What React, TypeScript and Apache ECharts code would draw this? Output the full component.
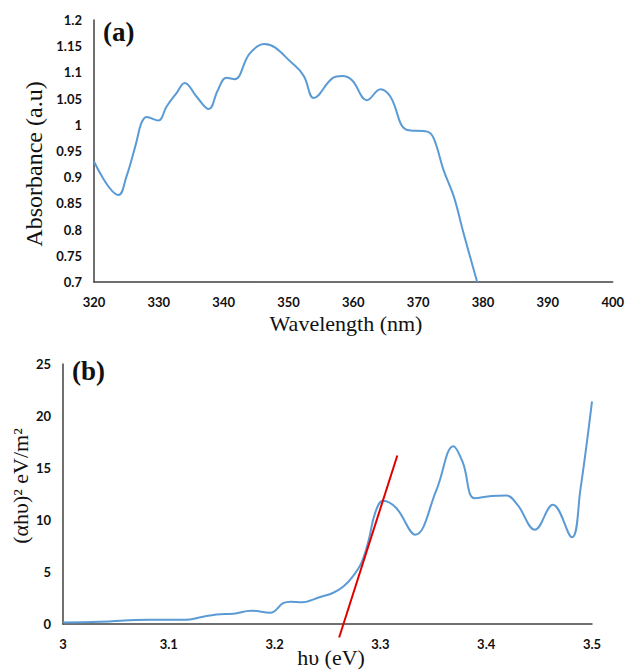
import React, { useEffect, useRef } from "react";
import * as echarts from "echarts";

// Panel (a): absorbance spectrum
const wavelengthNm = [320, 323.8, 325.0, 326.5, 327.3, 328.1, 329.9, 331.2, 332.7, 334.0, 335.8, 337.7, 339.1, 340.4, 341.7, 344.0, 346.3, 350.9, 352.4, 353.9, 356.8, 358.3, 359.8, 362.1, 364.2, 365.7, 368.3, 371.4, 372.4, 373.9, 375.5, 377.0, 379.1];
const absorbance = [0.930, 0.866, 0.901, 0.965, 1.003, 1.015, 1.008, 1.035, 1.060, 1.080, 1.054, 1.030, 1.066, 1.090, 1.087, 1.136, 1.154, 1.114, 1.092, 1.051, 1.089, 1.093, 1.085, 1.047, 1.068, 1.054, 0.990, 0.987, 0.974, 0.914, 0.863, 0.793, 0.700];
const wavelengthTicks = { min: 320, max: 400, interval: 10 };
const absorbanceTicks = { min: 0.7, max: 1.2, interval: 0.05 };

// Panel (b): Tauc plot
const photonEnergy = [3.0, 3.035, 3.082, 3.116, 3.13, 3.145, 3.161, 3.178, 3.196, 3.208, 3.215, 3.226, 3.243, 3.255, 3.265, 3.274, 3.282, 3.289, 3.295, 3.3025, 3.315, 3.333, 3.353, 3.369, 3.378, 3.389, 3.405, 3.419, 3.430, 3.446, 3.463, 3.481, 3.489, 3.5];
const taucValue = [0.15, 0.22, 0.42, 0.4, 0.65, 0.92, 0.99, 1.28, 1.08, 2.0, 2.15, 2.1, 2.6, 2.98, 3.6, 4.58, 5.87, 8.1, 10.67, 11.85, 11.15, 8.59, 12.9, 17.1, 15.5, 12.1, 12.3, 12.35, 11.4, 9.07, 11.47, 8.33, 12.9, 21.4];
const tangentX = [3.261, 3.316];
const tangentY = [-1.3, 16.2];
const energyTicks = { min: 3, max: 3.5, interval: 0.1 };
const taucTicks = { min: 0, max: 25, interval: 5 };

const BLUE = "#5B9BD5";
const AXIS = "#404040";
const INK = "#111";
const SERIF = "'Liberation Serif', 'Times New Roman', serif";
const tickLabel = { fontFamily: "Lato", fontWeight: "bold" as const, fontSize: 13, color: INK };

export default function App() {
  const ref = useRef<HTMLDivElement>(null);
  useEffect(() => {
    document.body.style.margin = "0";
    if (!ref.current) return;
    const chart = echarts.init(ref.current, null, { renderer: "svg" });
    const axisLine = { show: true, lineStyle: { color: AXIS, width: 1.5 } };
    const base = { type: "value", axisLine, axisTick: { show: false }, splitLine: { show: false } };
    const title = (text: string, x: number, y: number, size: number, rotated: boolean) => ({
      type: "text",
      x,
      y,
      rotation: rotated ? Math.PI / 2 : 0,
      style: { text, font: `${size}px ${SERIF}`, fill: INK, align: "center", verticalAlign: "middle" },
    });
    chart.setOption({
      animation: false,
      backgroundColor: "#fff",
      grid: [
        { left: 94, top: 20, width: 521, height: 262 },
        { left: 63, top: 364, width: 529, height: 260 },
      ],
      xAxis: [
        { ...base, gridIndex: 0, ...wavelengthTicks, axisLabel: { ...tickLabel, margin: 13 } },
        { ...base, gridIndex: 1, ...energyTicks, axisLabel: { ...tickLabel, margin: 13 } },
      ],
      yAxis: [
        { ...base, gridIndex: 0, ...absorbanceTicks, axisLabel: { ...tickLabel, margin: 12 } },
        { ...base, gridIndex: 1, ...taucTicks, axisLabel: { ...tickLabel, margin: 12 } },
      ],
      series: [
        {
          type: "line", xAxisIndex: 0, yAxisIndex: 0, smooth: 0.4, showSymbol: false,
          lineStyle: { color: BLUE, width: 2 },
          data: wavelengthNm.map((x, i) => [x, absorbance[i]]),
        },
        {
          type: "line", xAxisIndex: 1, yAxisIndex: 1, smooth: 0.4, showSymbol: false,
          lineStyle: { color: BLUE, width: 2 },
          data: photonEnergy.map((x, i) => [x, taucValue[i]]),
        },
        {
          type: "line", xAxisIndex: 1, yAxisIndex: 1, showSymbol: false, clip: false,
          lineStyle: { color: "#E00000", width: 2 },
          data: tangentX.map((x, i) => [x, tangentY[i]]),
        },
      ],
      graphic: [
        title("Absorbance (a.u)", 34, 164, 24, true),
        title("Wavelength (nm)", 346, 323, 22, false),
        title("(αhυ)² eV/m²", 20, 486, 22, true),
        title("hυ (eV)", 331, 657, 22, false),
        { type: "text", left: 103, top: 18, style: { text: "(a)", font: `bold 27px ${SERIF}`, fill: INK } },
        { type: "text", left: 72, top: 357, style: { text: "(b)", font: `bold 27px ${SERIF}`, fill: INK } },
      ],
    });
    return () => chart.dispose();
  }, []);
  return <div ref={ref} style={{ width: 627, height: 671 }} />;
}
